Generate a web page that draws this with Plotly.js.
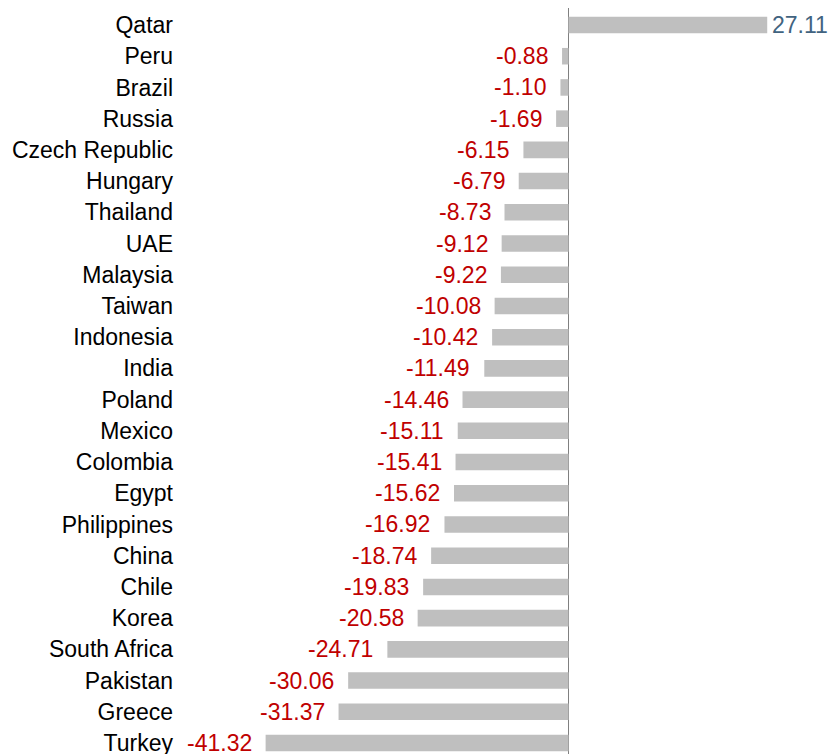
<!DOCTYPE html>
<html>
<head>
<meta charset="utf-8">
<script src="https://cdn.plot.ly/plotly-3.0.1.min.js"></script>
<style>html,body{margin:0;padding:0;background:#fff;}#chart{width:831px;height:754px;}</style>
</head>
<body>
<div id="chart"></div>
<script>
const countries = ["Qatar","Peru","Brazil","Russia","Czech Republic","Hungary","Thailand","UAE","Malaysia","Taiwan","Indonesia","India","Poland","Mexico","Colombia","Egypt","Philippines","China","Chile","Korea","South Africa","Pakistan","Greece","Turkey"];
const values = [27.11,-0.88,-1.10,-1.69,-6.15,-6.79,-8.73,-9.12,-9.22,-10.08,-10.42,-11.49,-14.46,-15.11,-15.41,-15.62,-16.92,-18.74,-19.83,-20.58,-24.71,-30.06,-31.37,-41.32];

const FONT = "Arial, 'Liberation Sans', sans-serif";
const annotations = values.map((v, i) => ({
  x: v, y: countries[i], xref: 'x', yref: 'y',
  text: v.toFixed(2),
  showarrow: false,
  xanchor: v < 0 ? 'right' : 'left',
  xshift: v < 0 ? -12 : 3,
  font: {family: FONT, size: 23, color: v < 0 ? '#C00000' : '#41637F'}
}));

const trace = {
  type: 'bar', orientation: 'h',
  x: values, y: countries,
  marker: {color: '#BFBFBF'},
  width: 0.53,
  hoverinfo: 'x+y'
};

const layout = {
  width: 831, height: 754,
  margin: {l: 180, r: 0, t: 8, b: 0, pad: 0},
  paper_bgcolor: '#fff', plot_bgcolor: '#fff',
  showlegend: false,
  xaxis: {range: [-53.0, 35.81], showgrid: false, showticklabels: false, ticks: '',
          zeroline: true, zerolinecolor: '#808080', zerolinewidth: 1.5, showline: false, fixedrange: true},
  yaxis: {type: 'category', categoryorder: 'array', categoryarray: countries,
          range: [23.352, -0.5446], autorange: false, showgrid: false, zeroline: false, showline: false,
          ticks: '', ticklabelstandoff: 6,
          tickfont: {family: FONT, size: 23, color: '#000'}, fixedrange: true},
  annotations: annotations
};

Plotly.newPlot('chart', [trace], layout, {displayModeBar: false, staticPlot: true});
</script>
</body>
</html>
